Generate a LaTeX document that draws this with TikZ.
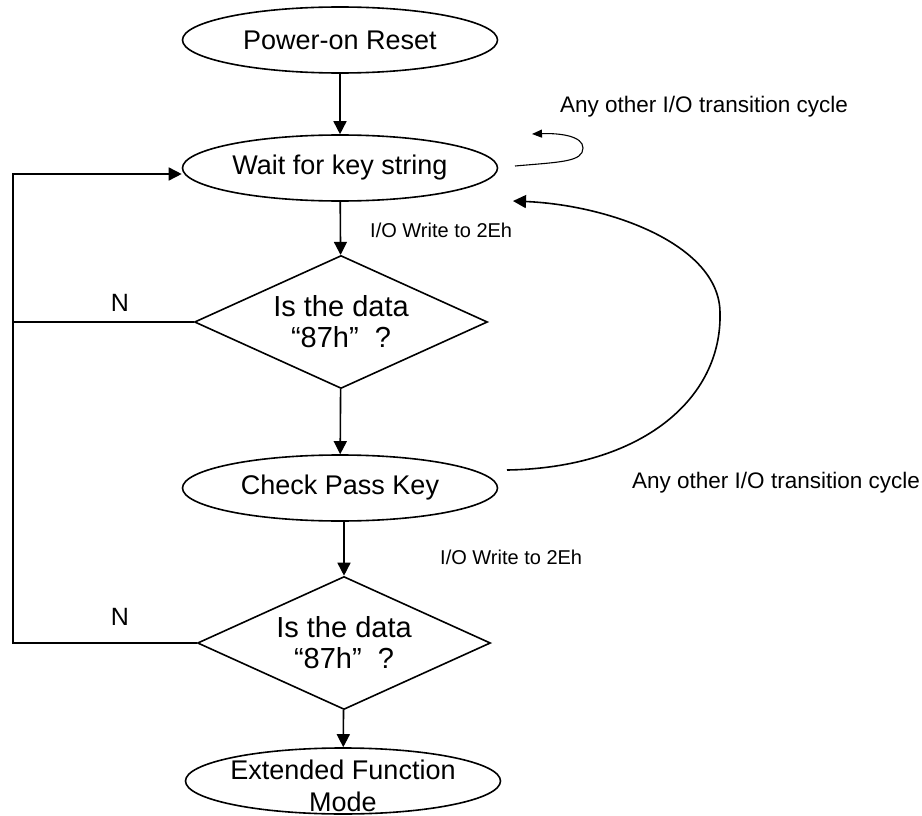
\documentclass[tikz,border=0pt]{standalone}
\usepackage{fontspec}
\setmainfont{Liberation Sans}
\usepackage{tikz}
\usetikzlibrary{shapes.geometric,arrows.meta}
\tikzset{
    state-box/.style = {draw, ellipse, line width=1.6pt, minimum width=315pt, minimum height=66pt, inner sep=0pt, font=\fontsize{27}{34}\selectfont},
    state-label/.style = {align=center, inner sep=0pt, font=\fontsize{27}{32}\selectfont},
    decision-box/.style = {draw, diamond, aspect=2.2, line width=1.6pt, minimum width=293pt, minimum height=133pt, inner sep=0pt, align=center, font=\fontsize{29}{31}\selectfont},
    flow-arrow/.style = {-{Triangle[length=13pt,width=13pt]}, line width=1.6pt},
    loop-arrow/.style = {-{Triangle[length=10pt,width=8pt]}, line width=1.1pt},
    note-text/.style = {anchor=west, inner sep=0pt, font=\fontsize{20}{24}\selectfont},
    cycle-text/.style = {anchor=west, inner sep=0pt, font=\fontsize{22.5}{26}\selectfont},
    no-text/.style = {inner sep=0pt, font=\fontsize{25}{28}\selectfont},
}

\begin{document}
\begin{tikzpicture}[x=1pt,y=-1pt]
\useasboundingbox (0,0) rectangle (922,816);
\node[state-box] (power) at (340,40) {Power-on Reset};
\node[state-box] (wait) at (340,168) {Wait for key string};
\node[decision-box] (check1) at (341,322) {Is the data\\“87h”\hspace{16pt}?};
\node[state-box] (pass) at (340,488) {Check Pass Key};
\node[decision-box] (check2) at (344,643) {Is the data\\“87h”\hspace{16pt}?};
\node[state-box] (ext) at (343,781) {};
\node[state-label] (ext-text) at (343,786) {Extended Function\\Mode};

\draw[flow-arrow] (power) -- (wait);
\draw[flow-arrow] (wait) -- (check1);
\draw[flow-arrow] (check1) -- (pass);
\draw[flow-arrow] (pass.south -| check2.north) -- (check2.north);
\draw[flow-arrow] (check2) -- (ext);

\coordinate (left-top) at (13,174);
\draw[flow-arrow] (check2.west) -| (left-top) -- (wait.west |- left-top);
\draw[line width=1.6pt] (check1.west) -- (check1.west -| left-top);
\node[no-text] (n1) at (120,303) {N};
\node[no-text] (n2) at (120,617) {N};

\node[note-text] (write1) at (370,230) {I/O Write to 2Eh};
\node[note-text] (write2) at (440,557) {I/O Write to 2Eh};

\coordinate (loop-start) at (515,166);
\coordinate (loop-end) at (532,134);
\draw[loop-arrow] (loop-start) .. controls (560,162) and (583,162) .. (583,148) .. controls (583,136) and (560,133) .. (loop-end);
\node[cycle-text] (other1) at (560,107) {Any other I/O transition cycle};

\coordinate (back-start) at (507,470);
\coordinate (back-end) at (513,201);
\draw[flow-arrow] (back-start) .. controls (640,468) and (722,400) .. (720,313) .. controls (720,245) and (610,205) .. (back-end);
\node[cycle-text] (other2) at (632,483) {Any other I/O transition cycle};
\end{tikzpicture}
\end{document}
